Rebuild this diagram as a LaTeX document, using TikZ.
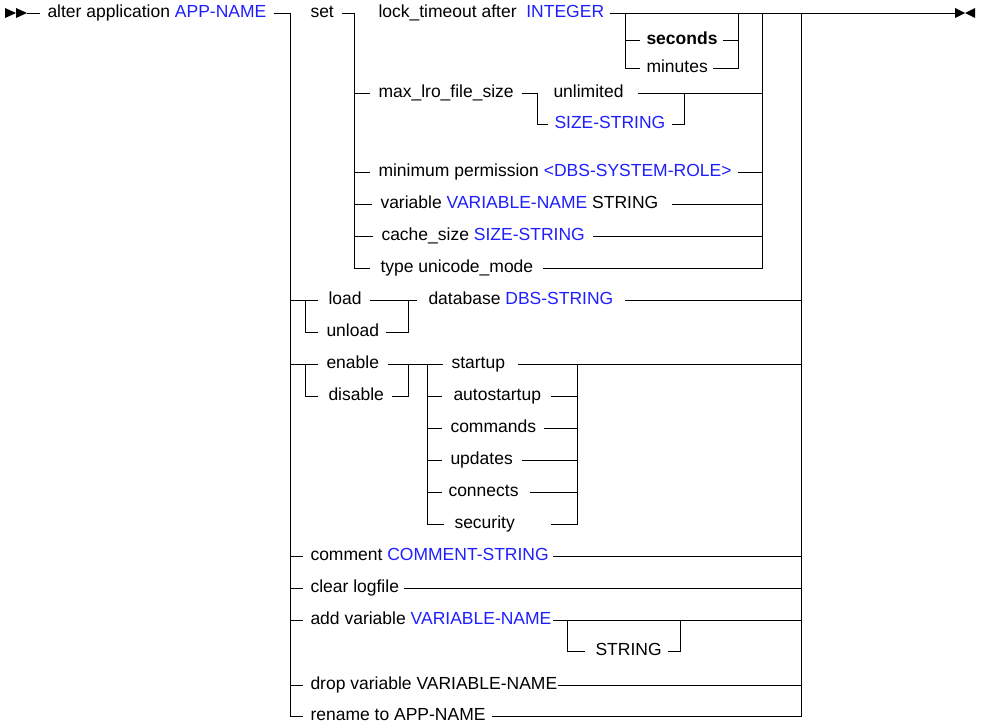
\documentclass[tikz,border=0pt]{standalone}
\usepackage{fontspec}
\setmainfont{Liberation Sans}
\definecolor{kw}{RGB}{30,30,255}
\begin{document}
\begin{tikzpicture}[x=1pt,y=-1pt,line width=1pt,
  lbl/.style={anchor=mid west,inner sep=0pt,yshift=-1.5pt,font=\fontsize{17.5}{20}\selectfont}]
\useasboundingbox (0,0) rectangle (983,728);
\newcommand\B[1]{\textcolor{kw}{#1}}
% start / end tips
\fill (5,8) -- (16,13) -- (5,18) -- cycle;
\fill (16,8) -- (27,13) -- (16,18) -- cycle;
\fill (955,8) -- (965,13) -- (955,18) -- cycle;
\fill (975,8) -- (965,13) -- (975,18) -- cycle;
% texts
\node[lbl] (t0) at (47,13) {alter application \B{APP-NAME}};
\node[lbl] (set) at (310,13) {set};
\node[lbl] (lock) at (378,13) {lock\_timeout after \ \B{INTEGER}};
\node[lbl] (sec) at (646,40) {\bfseries seconds};
\node[lbl] (min) at (646,68) {minutes};
\node[lbl] (maxl) at (378,93) {max\_lro\_file\_size};
\node[lbl] (unl) at (553,93) {unlimited};
\node[lbl] (ss) at (554,124) {\B{SIZE-STRING}};
\node[lbl] (minp) at (378,172) {minimum permission \B{<DBS-SYSTEM-ROLE>}};
\node[lbl] (var) at (380,204) {variable \B{VARIABLE-NAME} STRING};
\node[lbl] (cache) at (381,236) {cache\_size \B{SIZE-STRING}};
\node[lbl] (type) at (380,268) {type unicode\_mode};
\node[lbl] (load) at (328,300) {load};
\node[lbl] (unload) at (326,332) {unload};
\node[lbl] (db) at (428,300) {database \B{DBS-STRING}};
\node[lbl] (en) at (326,364) {enable};
\node[lbl] (dis) at (328,396) {disable};
\node[lbl] (st) at (451,364) {startup};
\node[lbl] (ast) at (453,396) {autostartup};
\node[lbl] (cmd) at (450,428) {commands};
\node[lbl] (upd) at (450,460) {updates};
\node[lbl] (con) at (448,492) {connects};
\node[lbl] (secu) at (454,524) {security};
\node[lbl] (com) at (310,556) {comment \B{COMMENT-STRING}};
\node[lbl] (clr) at (310,588) {clear logfile};
\node[lbl] (add) at (310,620) {add variable \B{VARIABLE-NAME}};
\node[lbl] (str) at (595,651) {STRING};
\node[lbl] (drop) at (310,685) {drop variable VARIABLE-NAME};
\node[lbl] (ren) at (310,716) {rename to APP-NAME};
% lines
\draw (27,13) -- (40,13);
\draw (274,13) -- (290,13);
\draw (290,13) -- (290,716) -- (303,716);
\draw (801,13) -- (801,716) -- (492,716);
\draw (342,13) -- (354,13);
\draw (354,13) -- (354,268) -- (370,268);
\draw (762,13) -- (762,268) -- (543,268);
\draw (610,13) -- (955,13);
\draw (625,13) -- (625,68) -- (640,68); \draw (625,40) -- (640,40);
\draw (738,13) -- (738,68) -- (713,68); \draw (738,40) -- (723,40);
\draw (354,93) -- (370,93); \draw (522,93) -- (537,93);
\draw (537,93) -- (537,124) -- (548,124);
\draw (638,93) -- (762,93);
\draw (684,93) -- (684,124) -- (672,124);
\draw (354,172) -- (370,172); \draw (738,172) -- (762,172);
\draw (354,204) -- (372,204); \draw (672,204) -- (762,204);
\draw (354,236) -- (373,236); \draw (593,236) -- (762,236);
% load/unload
\draw (290,300) -- (318,300); \draw (305,300) -- (305,332) -- (318,332);
\draw (370,300) -- (417,300); \draw (408,300) -- (408,332) -- (386,332);
\draw (625,300) -- (801,300);
% enable/disable
\draw (290,364) -- (318,364); \draw (305,364) -- (305,396) -- (318,396);
\draw (388,364) -- (443,364); \draw (408,364) -- (408,396) -- (392,396);
\draw (427,364) -- (427,524) -- (444,524);
\foreach \y in {396,428,460,492} \draw (427,\y) -- (442,\y);
\draw (518,364) -- (801,364);
\draw (577,364) -- (577,524) -- (551,524);
\draw (577,396) -- (551,396); \draw (577,428) -- (544,428);
\draw (577,460) -- (522,460); \draw (577,492) -- (530,492);
% lower rows
\foreach \y in {556,588,620,685} \draw (290,\y) -- (303,\y);
\draw (553,556) -- (801,556);
\draw (404,588) -- (801,588);
\draw (553,620) -- (801,620);
\draw (567,620) -- (567,651) -- (585,651);
\draw (680,620) -- (680,651) -- (668,651);
\draw (558,685) -- (801,685);
\end{tikzpicture}
\end{document}
